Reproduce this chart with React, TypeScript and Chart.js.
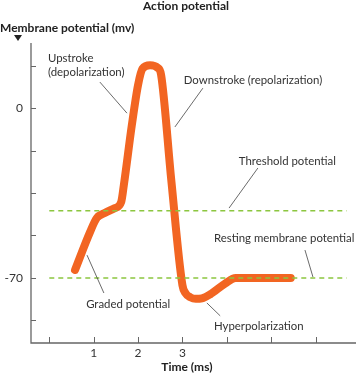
import React, { useEffect, useRef } from "react";
import { Chart, registerables } from "chart.js";

Chart.register(...registerables);

// Action potential trace (time in ms, membrane potential in mV, schematic)
const traceTime = [0.58, 0.92, 1.07, 1.25, 1.48, 1.62, 1.68, 1.86, 2.0, 2.1, 2.27, 2.44, 2.52, 2.75, 3.0, 3.07, 3.18, 3.3, 3.44, 3.62, 3.96, 4.2, 5.44];
const traceMv = [-66.7, -51, -45.3, -43.2, -41.2, -38.7, -31.7, -7, 9.5, 16.2, 17.6, 16.6, 13.6, -30, -73, -76.3, -78, -78.6, -78.4, -76.8, -72.3, -70, -70];

const thresholdMv = -42.3;
const restingMv = -70;
const yTickValues = [17.5, 0, -17.5, -35, -52.5, -70, -87.5];
const yTickLabels = ["", "0", "", "", "", "-70", ""];
const xTickValues = [0, 1, 2, 3, 4, 5, 6];
const xTickLabels = ["", "1", "2", "3", "", "", ""];

// Annotation texts, anchored in data coordinates
const labelTexts = ["Upstroke", "(depolarization)", "Downstroke (repolarization)", "Threshold potential", "Resting membrane potential", "Graded potential", "Hyperpolarization"];
const labelX = [-0.03, -0.03, 3.03, 4.27, 3.71, 0.83, 3.71];
const labelY = [20.6, 14.8, 11.5, -21.8, -53.5, -80.7, -89.8];
// Leader lines in data coords
const leaderX1 = [1.14, 3.46, 4.7, 5.76, 0.85, 3.55];
const leaderY1 = [10.7, 8.2, -24.7, -58.5, -60.6, -80.3];
const leaderX2 = [1.75, 2.83, 4.05, 5.94, 1.23, 3.85];
const leaderY2 = [-2.1, -7.8, -41.2, -69.6, -76.2, -85.6];

const FONT = "Lato, 'Open Sans', sans-serif";

export default function App() {
  const ref = useRef<HTMLCanvasElement | null>(null);
  useEffect(() => {
    if (!ref.current) return;
    const overlay = {
      id: "overlay",
      afterDraw(chart: any) {
        const ctx = chart.ctx;
        const xs = chart.scales.x;
        const ys = chart.scales.y;
        const area = chart.chartArea;
        ctx.save();
        ctx.strokeStyle = "#666";
        ctx.lineWidth = 1.3;
        ctx.beginPath();
        ctx.moveTo(area.left, area.top);
        ctx.lineTo(area.left, area.bottom);
        ctx.lineTo(area.right, area.bottom);
        ctx.stroke();
        ctx.lineWidth = 1;
        yTickValues.forEach((v) => {
          const y = Math.round(ys.getPixelForValue(v)) + 0.5;
          ctx.beginPath();
          ctx.moveTo(area.left, y);
          ctx.lineTo(area.left + 5, y);
          ctx.stroke();
        });
        xTickValues.forEach((v) => {
          const x = Math.round(xs.getPixelForValue(v)) + 0.5;
          ctx.beginPath();
          ctx.moveTo(x, area.bottom);
          ctx.lineTo(x, area.bottom - 6);
          ctx.stroke();
        });
        ctx.fillStyle = "#333";
        ctx.font = `12px ${FONT}`;
        ctx.textBaseline = "middle";
        ctx.textAlign = "right";
        yTickValues.forEach((v, i) => {
          if (yTickLabels[i]) ctx.fillText(yTickLabels[i], area.left - 8, ys.getPixelForValue(v));
        });
        ctx.textAlign = "center";
        xTickValues.forEach((v, i) => {
          if (xTickLabels[i]) ctx.fillText(xTickLabels[i], xs.getPixelForValue(v), area.bottom + 10);
        });
        ctx.fillStyle = "#222";
        ctx.font = `bold 12px ${FONT}`;
        ctx.fillText("Action potential", 186, 6);
        ctx.fillText("Time (ms)", xs.getPixelForValue(3.1), area.bottom + 24);
        ctx.textAlign = "left";
        ctx.fillText("Membrane potential (mv)", 0, 28);
        ctx.beginPath();
        ctx.moveTo(14, 35);
        ctx.lineTo(22, 35);
        ctx.lineTo(18, 41);
        ctx.closePath();
        ctx.fill();
        ctx.fillStyle = "#333";
        ctx.font = `11.4px ${FONT}`;
        labelTexts.forEach((t, i) => {
          ctx.fillText(t, xs.getPixelForValue(labelX[i]), ys.getPixelForValue(labelY[i]));
        });
        ctx.strokeStyle = "#444";
        ctx.lineWidth = 0.8;
        leaderX1.forEach((_, i) => {
          ctx.beginPath();
          ctx.moveTo(xs.getPixelForValue(leaderX1[i]), ys.getPixelForValue(leaderY1[i]));
          ctx.lineTo(xs.getPixelForValue(leaderX2[i]), ys.getPixelForValue(leaderY2[i]));
          ctx.stroke();
        });
        ctx.restore();
      },
    };
    const lineEnds = [0, 6.7];
    const chart = new Chart(ref.current, {
      type: "scatter",
      data: {
        datasets: [
          {
            data: lineEnds.map((x) => ({ x, y: thresholdMv })),
            showLine: true,
            borderColor: "#8CC63F",
            borderWidth: 1.5,
            borderDash: [5, 4],
            pointRadius: 0,
          },
          {
            data: lineEnds.map((x) => ({ x, y: restingMv })),
            showLine: true,
            borderColor: "#8CC63F",
            borderWidth: 1.5,
            borderDash: [5, 4],
            pointRadius: 0,
          },
          {
            data: traceTime.map((x, i) => ({ x, y: traceMv[i] })),
            showLine: true,
            borderColor: "#F26522",
            borderWidth: 8,
            borderCapStyle: "round",
            borderJoinStyle: "round",
            cubicInterpolationMode: "monotone",
            tension: 0.4,
            pointRadius: 0,
          },
        ],
      },
      options: {
        animation: false,
        responsive: false,
        layout: { padding: { left: 31, right: 1, top: 43, bottom: 32 } },
        plugins: { legend: { display: false }, tooltip: { enabled: false } },
        scales: {
          x: { type: "linear", min: -0.412, max: 6.91, display: false },
          y: { type: "linear", min: -96.8, max: 26.8, display: false },
        },
      },
      plugins: [overlay],
    } as any);
    return () => chart.destroy();
  }, []);
  return (
    <div style={{ position: "absolute", left: 0, top: 0, width: 357, height: 375, background: "#fff" }}>
      <canvas ref={ref} width={357} height={375} />
    </div>
  );
}
